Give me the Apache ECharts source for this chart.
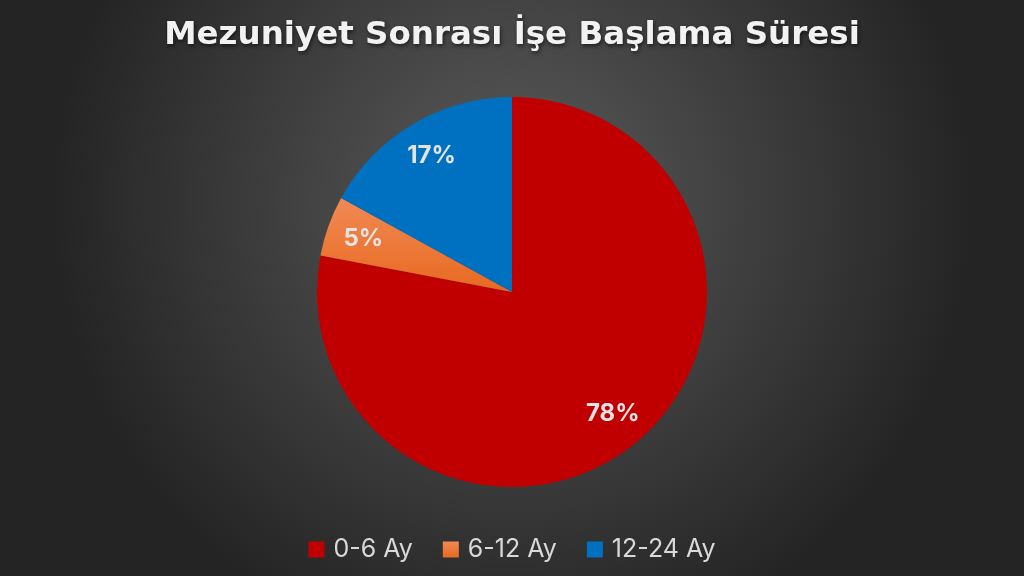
<!DOCTYPE html>
<html><head><meta charset="utf-8">
<script src="https://cdn.jsdelivr.net/npm/echarts@6/dist/echarts.min.js"></script>
<style>html,body{margin:0;padding:0;}#c{width:1024px;height:576px;}</style>
</head><body><div id="c"></div>
<script>
const titleText = 'Mezuniyet Sonrası İşe Başlama Süresi';
const categories = ['0-6 Ay', '6-12 Ay', '12-24 Ay'];
const values = [78, 5, 17];
const colors = ['#c00000', '#ed7d31', '#0070c0'];

const chart = echarts.init(document.getElementById('c'));
const mainData = categories.map((n, i) => ({
  name: n, value: values[i],
  itemStyle: { color: i === 1 ? new echarts.graphic.LinearGradient(0, 0, 0, 1, [{offset: 0, color: '#f08a55'}, {offset: 1, color: '#e8691f'}]) : colors[i] }
}));
const labelData = categories.map((n, i) => ({ name: n, value: values[i] }));

chart.setOption({
  backgroundColor: new echarts.graphic.RadialGradient(0.5, 0.35, 0.8, [
    {offset: 0, color: '#5b5b5b'}, {offset: 1, color: '#242424'}
  ]),
  title: {
    text: titleText, left: 'center', top: 14,
    textStyle: { color: '#f2f2f2', fontFamily: 'DejaVu Sans', fontWeight: 'bold', fontSize: 32.5,
      textShadowColor: 'rgba(0,0,0,0.6)', textShadowBlur: 4, textShadowOffsetX: 1, textShadowOffsetY: 2 }
  },
  legend: {
    data: categories, bottom: 9, left: 'center', itemWidth: 16, itemHeight: 16, itemGap: 30,
    icon: 'rect',
    textStyle: { color: '#d9d9d9', fontFamily: 'Inter', fontSize: 25, padding: [0, 0, 0, 4] }
  },
  series: [{
    type: 'pie', center: [512, 292], radius: [0, 195], startAngle: 90, clockwise: true,
    label: { show: false }, labelLine: { show: false }, silent: true,
    data: mainData
  }, {
    type: 'pie', center: [512, 292], radius: [0, 310], startAngle: 90, clockwise: true,
    silent: true, itemStyle: { color: 'rgba(0,0,0,0)' },
    label: { show: true, position: 'inside', formatter: '{c}%', color: '#e3e3e3',
      fontFamily: 'Inter', fontWeight: 'bold', fontSize: 24 },
    labelLine: { show: false },
    data: labelData
  }]
});
</script></body></html>
